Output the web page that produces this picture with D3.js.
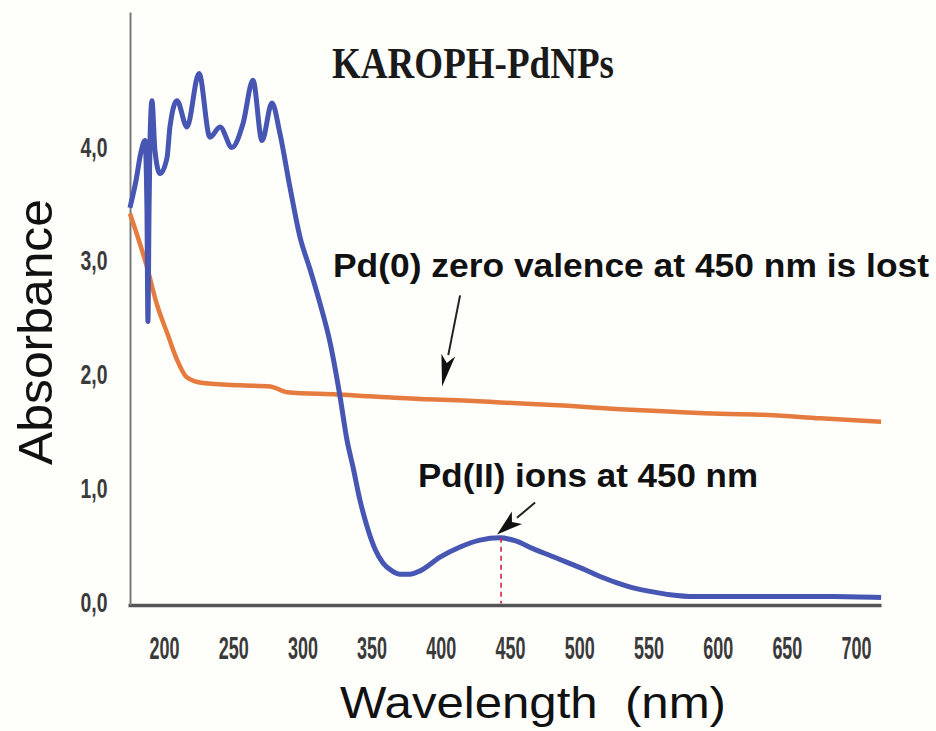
<!DOCTYPE html>
<html>
<head>
<meta charset="utf-8">
<script src="https://cdn.jsdelivr.net/npm/d3@7"></script>
<style>
  html, body { margin: 0; padding: 0; background: #fefefb; }
  svg { display: block; }
</style>
</head>
<body>
<script>
// wavelength (nm) / absorbance
const blueNm  = [175.4, 179.8, 183.4, 186.3, 187.7, 188.4, 189.2, 189.9, 191.3, 193.5, 197.1, 202.2, 204.3, 209.4,
  216.6, 225.3, 233.2, 240.5, 249.1, 257.1, 264.3, 270.8, 278.0, 283.8, 291.0, 298.3, 305.5, 312.7, 319.9,
  327.2, 332.2, 336.6, 341.6, 346.7, 352.5, 358.2, 364.7, 370.5, 377.7, 385.0, 399.4, 413.9, 428.3, 442.8,
  453.6, 466.6, 478.9, 491.2, 504.2, 515.0, 527.3, 538.9, 551.2, 565.6, 583.7, 630.6, 683.4, 718.1];
const blueAbs = [3.46, 3.70, 3.95, 4.05, 3.44, 2.46, 3.44, 4.05, 4.40, 3.96, 3.76, 3.90, 4.17, 4.40,
  4.17, 4.64, 4.08, 4.17, 3.99, 4.20, 4.58, 4.05, 4.38, 4.11, 3.64, 3.20, 2.92, 2.62, 2.28,
  1.80, 1.42, 1.18, 0.89, 0.66, 0.46, 0.34, 0.27, 0.24, 0.24, 0.27, 0.39, 0.48, 0.54, 0.56,
  0.535, 0.465, 0.405, 0.345, 0.28, 0.22, 0.165, 0.12, 0.09, 0.06, 0.044, 0.044, 0.044, 0.035];

const orangeNm  = [175.4, 179.0, 187.7, 194.9, 202.9, 207.9, 216.6, 228.2, 254.9, 276.6, 288.9, 325.0,
  385.0, 419.7, 442.8, 491.9, 529.5, 564.2, 601.7, 636.4, 674.0, 718.1];
const orangeAbs = [3.41, 3.28, 2.94, 2.61, 2.34, 2.17, 1.97, 1.92, 1.90, 1.89, 1.84, 1.82,
  1.78, 1.765, 1.75, 1.72, 1.69, 1.67, 1.65, 1.64, 1.61, 1.58];

const xTicks = [200, 250, 300, 350, 400, 450, 500, 550, 600, 650, 700];
const yTicks = [0, 1, 2, 3, 4];

const peakNm = 443.5, peakAbs = 0.56;
const arrowZero = [[413.9, 2.69], [400.9, 1.89]];
const arrowIons = [[468.1, 0.87], [440.6, 0.59]];

const W = 936, H = 731;
const svg = d3.select("body").append("svg").attr("width", W).attr("height", H);

const x = d3.scaleLinear().domain([174, 718]).range([128, 881]);
const y = d3.scaleLinear().domain([-0.03, 5.18]).range([605, 12]);

// axes
const gx = svg.append("g").attr("transform", "translate(0,605)")
  .call(d3.axisBottom(x).tickValues(xTicks).tickSize(0).tickSizeOuter(0).tickFormat(d3.format("d")));
gx.select(".domain").attr("stroke", "#555").attr("stroke-width", 3.5);
gx.selectAll("text")
  .attr("y", 54).attr("dy", null)
  .attr("font-family", "Liberation Sans, Arial, sans-serif")
  .attr("font-weight", "bold").attr("font-size", 31).attr("fill", "#3a3a3a")
  .attr("textLength", 30).attr("lengthAdjust", "spacingAndGlyphs");

const gy = svg.append("g").attr("transform", "translate(130,0)")
  .call(d3.axisLeft(y).tickValues(yTicks).tickSize(0).tickSizeOuter(0)
    .tickFormat(d => d.toFixed(1).replace(".", ",")));
gy.select(".domain").attr("stroke", "#7a7a7a").attr("stroke-width", 2);
gy.selectAll("text")
  .attr("x", -36).attr("dy", "0.36em").attr("text-anchor", "middle")
  .attr("font-family", "Liberation Sans, Arial, sans-serif")
  .attr("font-weight", "bold").attr("font-size", 27).attr("fill", "#3a3a3a")
  .attr("textLength", 27).attr("lengthAdjust", "spacingAndGlyphs");

// curves
const line = d3.line().x(d => x(d[0])).y(d => y(d[1])).curve(d3.curveMonotoneX);

svg.append("path")
  .datum(d3.zip(orangeNm, orangeAbs))
  .attr("d", line).attr("fill", "none")
  .attr("stroke", "#e57b3e").attr("stroke-width", 4.5).attr("stroke-linejoin", "round");

svg.append("path")
  .datum(d3.zip(blueNm, blueAbs))
  .attr("d", line).attr("fill", "none")
  .attr("stroke", "#4656b2").attr("stroke-width", 5).attr("stroke-linejoin", "round");

// dashed marker at the peak
svg.append("line")
  .attr("x1", x(peakNm)).attr("x2", x(peakNm))
  .attr("y1", y(peakAbs)).attr("y2", y(0) + 2)
  .attr("stroke", "#c8283a").attr("stroke-width", 1.6).attr("stroke-dasharray", "5,4");

// arrows
function arrow(pts, headLen, headW) {
  const [x0, y0] = [x(pts[0][0]), y(pts[0][1])];
  const [x1, y1] = [x(pts[1][0]), y(pts[1][1])];
  const a = Math.atan2(y1 - y0, x1 - x0);
  const bx = x1 - headLen * Math.cos(a), by = y1 - headLen * Math.sin(a);
  svg.append("line").attr("x1", x0).attr("y1", y0).attr("x2", bx).attr("y2", by)
    .attr("stroke", "#222").attr("stroke-width", 2);
  const px = -Math.sin(a) * headW, py = Math.cos(a) * headW;
  svg.append("path")
    .attr("d", `M${x1},${y1}L${bx + px},${by + py}L${bx + (x1 - bx) * 0.25},${by + (y1 - by) * 0.25}L${bx - px},${by - py}Z`)
    .attr("fill", "#111");
}
arrow(arrowZero, 32, 7);
arrow(arrowIons, 26, 8);

// texts
const sans = "Liberation Sans, Arial, sans-serif";
svg.append("text").text("KAROPH-PdNPs")
  .attr("x", 332).attr("y", 78)
  .attr("font-family", "Liberation Serif, Times New Roman, serif").attr("font-weight", "bold")
  .attr("font-size", 44).attr("fill", "#1a1a1a")
  .attr("textLength", 282).attr("lengthAdjust", "spacingAndGlyphs");

svg.append("text").text("Pd(0) zero valence at 450 nm is lost")
  .attr("x", 333).attr("y", 277)
  .attr("font-family", sans).attr("font-weight", "bold")
  .attr("font-size", 34).attr("fill", "#111")
  .attr("textLength", 596).attr("lengthAdjust", "spacingAndGlyphs");

svg.append("text").text("Pd(II) ions at 450 nm")
  .attr("x", 418).attr("y", 487)
  .attr("font-family", sans).attr("font-weight", "bold")
  .attr("font-size", 34).attr("fill", "#111")
  .attr("textLength", 340).attr("lengthAdjust", "spacingAndGlyphs");

svg.append("text").text("Absorbance")
  .attr("transform", "translate(52,332) rotate(-90)")
  .attr("text-anchor", "middle")
  .attr("font-family", sans).attr("font-size", 48).attr("fill", "#111")
  .attr("textLength", 266).attr("lengthAdjust", "spacingAndGlyphs");

svg.append("text").text("Wavelength  (nm)")
  .attr("x", 340).attr("y", 718)
  .attr("font-family", sans).attr("font-size", 44).attr("fill", "#111")
  .attr("xml:space", "preserve").style("white-space", "pre")
  .attr("textLength", 386).attr("lengthAdjust", "spacingAndGlyphs");
</script>
</body>
</html>
